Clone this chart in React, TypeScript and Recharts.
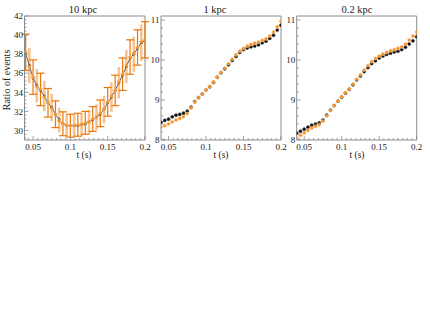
import React from "react";
import { ComposedChart, Line, XAxis, YAxis, ErrorBar, ReferenceArea } from "recharts";

const times = [
  0.04, 0.045, 0.05, 0.055, 0.06, 0.065, 0.07, 0.075, 0.08, 0.085, 0.09, 0.095, 0.1, 0.105, 0.11, 0.115,
  0.12, 0.125, 0.13, 0.135, 0.14, 0.145, 0.15, 0.155, 0.16, 0.165, 0.17, 0.175, 0.18, 0.185, 0.19, 0.195, 0.2,
];

// 10 kpc
const ratio10Black = [
  38.1, 36.8, 35.5, 34.7, 34.2, 33.6, 32.9, 32.4, 31.7, 31.1, 30.7, 30.5, 30.5, 30.5, 30.5, 30.6,
  30.7, 30.9, 31.1, 31.4, 31.7, 32.2, 32.9, 33.5, 34.2, 35.0, 35.8, 36.7, 37.6, 38.0, 38.6, 39.2, 39.4,
];
const ratio10Orange = [
  38.2, 36.7, 35.6, 34.6, 34.3, 33.5, 32.9, 32.3, 31.7, 31.0, 30.7, 30.5, 30.5, 30.5, 30.6, 30.6,
  30.8, 30.9, 31.2, 31.4, 31.8, 32.2, 33.0, 33.6, 34.2, 35.1, 35.9, 36.8, 37.7, 38.1, 38.7, 39.3, 39.5,
];
const err10Dark = [
  1.9, null, 1.8, null, 1.7, null, 1.5, null, 1.4, null, 1.25, null, 1.2, null, 1.2, null,
  1.2, null, 1.3, null, 1.4, null, 1.5, null, 1.6, null, 1.7, null, 1.8, null, 1.85, null, 1.9,
];
const err10Light = [
  null, 1.85, null, 1.75, null, 1.6, null, 1.45, null, 1.3, null, 1.2, null, 1.2, null, 1.2,
  null, 1.25, null, 1.35, null, 1.45, null, 1.55, null, 1.65, null, 1.75, null, 1.85, null, 1.9, null,
];

// 1 kpc
const ratio1Black = [
  8.44, 8.49, 8.52, 8.58, 8.62, 8.64, 8.67, 8.72, 8.82, 8.96, 9.06, 9.15, 9.25, 9.33, 9.44, 9.57,
  9.68, 9.78, 9.88, 9.99, 10.09, 10.19, 10.26, 10.3, 10.33, 10.35, 10.38, 10.43, 10.47, 10.54, 10.62, 10.75, 10.87,
];
const ratio1Orange = [
  8.32, 8.36, 8.4, 8.45, 8.5, 8.54, 8.58, 8.66, 8.8, 8.95, 9.06, 9.15, 9.25, 9.34, 9.45, 9.57,
  9.69, 9.8, 9.91, 10.02, 10.13, 10.22, 10.29, 10.35, 10.39, 10.42, 10.45, 10.49, 10.53, 10.6, 10.7, 10.83, 10.97,
];

// 0.2 kpc
const ratio02Black = [
  8.17, 8.22, 8.27, 8.32, 8.37, 8.4, 8.43, 8.5, 8.62, 8.75, 8.86, 8.97, 9.07, 9.17, 9.27, 9.38,
  9.5, 9.6, 9.71, 9.81, 9.91, 9.98, 10.05, 10.1, 10.14, 10.17, 10.2, 10.22, 10.26, 10.32, 10.4, 10.48, 10.58,
];
const ratio02Orange = [
  8.05, 8.12, 8.18, 8.24, 8.3, 8.34, 8.38, 8.47, 8.6, 8.74, 8.86, 8.97, 9.08, 9.18, 9.28, 9.4,
  9.52, 9.63, 9.75, 9.86, 9.96, 10.04, 10.1, 10.15, 10.19, 10.23, 10.26, 10.29, 10.33, 10.4, 10.5, 10.6, 10.7,
];

const xMajor = [0.05, 0.1, 0.15, 0.2];
const yMajor10 = [30, 32, 34, 36, 38, 40, 42];
const yMajorLow = [8, 9, 10, 11];

const titles = ["10 kpc", "1 kpc", "0.2 kpc"];

const FONT = '"Liberation Serif", "DejaVu Serif", serif';
const FRAME = "#8c8c8c";
const ORANGE = "#f7901e";
const ORANGE_DARK = "#ec7405";
const PEACH = "#f6c490";

const steps = (lo: number, hi: number, step: number) => {
  const out: number[] = [];
  for (let v = lo; v <= hi + 1e-9; v += step) out.push(Math.round(v * 1e6) / 1e6);
  return out;
};

const isMajor = (v: number, majors: number[]) => majors.some((m) => Math.abs(m - v) < 1e-6);

const makeYTick = (majors: number[]) => (props: any) => {
  const { x, y, payload } = props;
  const major = isMajor(payload.value, majors);
  return (
    <g>
      <line x1={x} x2={x + (major ? 4 : 2)} y1={y} y2={y} stroke={FRAME} strokeWidth={0.8} />
      {major && (
        <text x={x - 1.5} y={y} dy={3.2} textAnchor="end" fontSize={9} fontFamily={FONT} fill="#222">
          {payload.value}
        </text>
      )}
    </g>
  );
};

const makeXTick = (majors: number[]) => (props: any) => {
  const { x, y, payload } = props;
  const major = isMajor(payload.value, majors);
  return (
    <g>
      <line x1={x} x2={x} y1={y} y2={y - (major ? 4 : 2)} stroke={FRAME} strokeWidth={0.8} />
      {major && (
        <text x={x} y={y + 9.5} textAnchor="middle" fontSize={9} fontFamily={FONT} fill="#222">
          {payload.value}
        </text>
      )}
    </g>
  );
};

type PanelProps = {
  left: number;
  width: number;
  yWidth: number;
  right: number;
  xDomain: [number, number];
  yDomain: [number, number];
  yMajor: number[];
  yMinorStart: number;
  yMinorStep: number;
  black: number[];
  orange: number[];
  withErrors?: boolean;
};

const Panel: React.FC<PanelProps> = ({ left, width, yWidth, right, xDomain, yDomain, yMajor, yMinorStart, yMinorStep, black, orange, withErrors }) => {
  const data = times.map((t, i) => ({
    t,
    black: black[i],
    orange: orange[i],
    eDark: withErrors ? err10Dark[i] : null,
    eLight: withErrors ? err10Light[i] : null,
  }));
  const xTicks = steps(0.04375, 0.2, 0.00625).filter((v) => v >= xDomain[0] && v <= xDomain[1]);
  const yTicks = steps(yMinorStart, yDomain[1], yMinorStep);
  return (
    <div style={{ position: "absolute", left, top: 0 }}>
      <ComposedChart width={width} height={170} data={data} margin={{ top: 16, right, bottom: 0, left: 0 }}>
        <XAxis
          dataKey="t"
          type="number"
          domain={xDomain}
          allowDataOverflow
          ticks={xTicks}
          interval={0}
          height={30}
          tickSize={0}
          tickMargin={0}
          axisLine={false}
          tickLine={false}
          tick={makeXTick(xMajor)}
        />
        <YAxis
          type="number"
          domain={yDomain}
          allowDataOverflow
          ticks={yTicks}
          interval={0}
          width={yWidth}
          tickSize={0}
          tickMargin={0}
          axisLine={false}
          tickLine={false}
          tick={makeYTick(yMajor)}
        />
        {withErrors ? (
          <Line dataKey="black" stroke="#555" strokeWidth={0.9} isAnimationActive={false} dot={{ r: 1.4, fill: "#111", stroke: "none" }}>
            <ErrorBar dataKey="eLight" direction="y" width={0} stroke={PEACH} strokeWidth={2.6} />
          </Line>
        ) : (
          <Line dataKey="black" stroke="none" isAnimationActive={false} dot={{ r: 1.6, fill: "#111", stroke: "#444", strokeWidth: 0.5 }} />
        )}
        <Line
          dataKey="orange"
          stroke="none"
          isAnimationActive={false}
          dot={{ r: 1.6, fill: ORANGE, stroke: "#f9b978", strokeWidth: 0.6 }}
        >
          {withErrors && <ErrorBar dataKey="eDark" direction="y" width={4} stroke={ORANGE_DARK} strokeWidth={1.2} />}
        </Line>
        <ReferenceArea
          x1={xDomain[0]}
          x2={xDomain[1]}
          y1={yDomain[0]}
          y2={yDomain[1]}
          fill="none"
          stroke={FRAME}
          strokeWidth={1}
          ifOverflow="visible"
        />
      </ComposedChart>
    </div>
  );
};

export default function App() {
  return (
    <div style={{ position: "absolute", left: 0, top: 0, width: 430, height: 332, background: "#fff" }}>
      <Panel
        left={0}
        width={155}
        yWidth={24.5}
        right={10}
        xDomain={[0.0385, 0.2]}
        yDomain={[29, 42]}
        yMajor={yMajor10}
        yMinorStart={29.2}
        yMinorStep={0.4}
        black={ratio10Black}
        orange={ratio10Orange}
        withErrors
      />
      <Panel
        left={140}
        width={152}
        yWidth={21}
        right={11}
        xDomain={[0.04, 0.2]}
        yDomain={[8, 11.1]}
        yMajor={yMajorLow}
        yMinorStart={8}
        yMinorStep={0.2}
        black={ratio1Black}
        orange={ratio1Orange}
      />
      <Panel
        left={280}
        width={150}
        yWidth={16.7}
        right={13.3}
        xDomain={[0.04, 0.2]}
        yDomain={[8, 11.1]}
        yMajor={yMajorLow}
        yMinorStart={8}
        yMinorStep={0.2}
        black={ratio02Black}
        orange={ratio02Orange}
      />
      <svg width={430} height={332} style={{ position: "absolute", left: 0, top: 0, pointerEvents: "none" }}>
        <g fontFamily={FONT} fill="#222">
          <text x={83} y={13} textAnchor="middle" fontSize={10.5}>{titles[0]}</text>
          <text x={215} y={13} textAnchor="middle" fontSize={10.5}>{titles[1]}</text>
          <text x={357} y={13} textAnchor="middle" fontSize={10.5}>{titles[2]}</text>
          <text x={84} y={158} textAnchor="middle" fontSize={9.5}>t (s)</text>
          <text x={221} y={158} textAnchor="middle" fontSize={9.5}>t (s)</text>
          <text x={357} y={158} textAnchor="middle" fontSize={9.5}>t (s)</text>
          <text x={10} y={80} textAnchor="middle" fontSize={10} transform="rotate(-90 10 80)">Ratio of events</text>
        </g>
      </svg>
    </div>
  );
}
